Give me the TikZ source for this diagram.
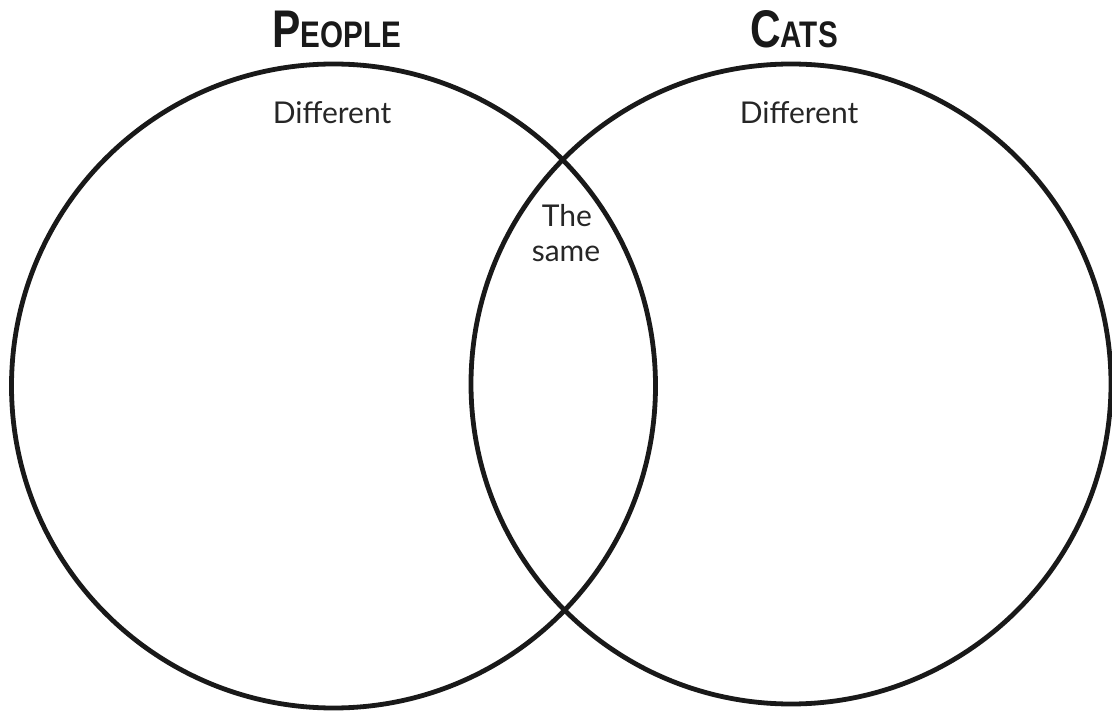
\documentclass[tikz,border=0pt]{standalone}
\usepackage{fontspec}
\setmainfont{Lato}
\newfontfamily\titlefont{Liberation Sans}
\begin{document}
\begin{tikzpicture}[x=1pt,y=-1pt,
  ring/.style={draw=black!90, line width=4.8pt, circle, inner sep=0pt, fill=none},
  label/.style={anchor=base, inner sep=0pt, font=\fontsize{30}{36}\selectfont, text=black!85},
  heading/.style={anchor=base, inner sep=0pt, text=black!90}]
\useasboundingbox (0,0) rectangle (1112,711);
\node[ring, minimum size=644pt] (people) at (333.5,386) {};
\node[ring, minimum size=640pt] (cats) at (791,384) {};
\node[heading] (tpeople) at (337,48) {\scalebox{0.8}[1]{\titlefont\bfseries\fontsize{53}{60}\selectfont P\fontsize{37}{40}\selectfont EOPLE}};
\node[heading] (tcats) at (794,48) {\scalebox{0.8}[1]{\titlefont\bfseries\fontsize{53}{60}\selectfont C\fontsize{37}{40}\selectfont ATS}};
\node[label] (dleft) at (332,124) {Different};
\node[label] (dright) at (799,124) {Different};
\node[label] (the) at (567,227) {The};
\node[label] (same) at (566,262) {same};
\end{tikzpicture}
\end{document}
